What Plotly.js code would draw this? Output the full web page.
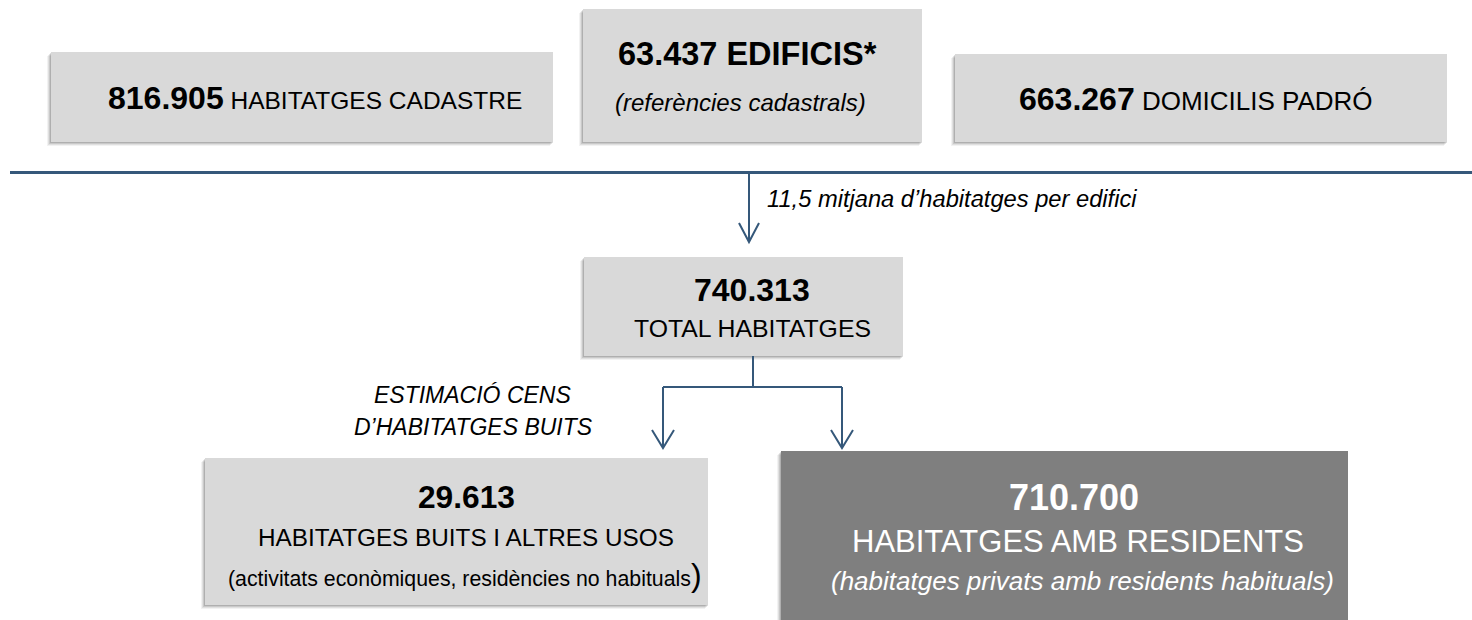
<!DOCTYPE html>
<html>
<head>
<meta charset="utf-8">
<script src="https://cdn.plot.ly/plotly-3.0.1.min.js"></script>
<style>
  html, body { margin: 0; padding: 0; background: #ffffff; }
  #chart { width: 1472px; height: 620px; }
</style>
</head>
<body>
<div id="chart"></div>
<script>
// ---- Data (text content of the diagram) ----
const topValues = ['816.905', '63.437', '663.267'];
const topLabels = ['HABITATGES CADASTRE', 'EDIFICIS*', 'DOMICILIS PADRÓ'];
const topNote = '(referències cadastrals)';
const avgLabel = '11,5 mitjana d’habitatges per edifici';
const totalValue = '740.313';
const totalLabel = 'TOTAL HABITATGES';
const estimateLabel = ['ESTIMACIÓ CENS', 'D’HABITATGES BUITS'];
const emptyValue = '29.613';
const emptyLabel = 'HABITATGES BUITS I ALTRES USOS';
const emptyNote = '(activitats econòmiques, residències no habituals';
const residentValue = '710.700';
const residentLabel = 'HABITATGES AMB RESIDENTS';
const residentNote = '(habitatges privats amb residents habituals)';

// ---- Layout geometry / styles ----
const FONT = 'Liberation Sans, Arial, Helvetica, sans-serif';
const LIGHT = '#d9d9d9';
const DARK = '#7f7f7f';
const LINE = '#35587a';

const boxes = [
  {x0: 51,  x1: 553,  y0: 52,  y1: 142, fill: LIGHT},   // cadastre
  {x0: 583, x1: 922,  y0: 9,   y1: 142, fill: LIGHT},   // edificis
  {x0: 955, x1: 1447, y0: 54,  y1: 142, fill: LIGHT},   // padró
  {x0: 584, x1: 903,  y0: 257, y1: 356, fill: LIGHT},   // total
  {x0: 205, x1: 708,  y0: 458, y1: 605, fill: LIGHT},   // buits
  {x0: 781, x1: 1348, y0: 451, y1: 640, fill: DARK}     // residents
];

const shapes = [];
boxes.forEach(b => {
  [[4, 0.05], [3, 0.07], [2, 0.10], [1, 0.13]].forEach(([o, a]) => {
    shapes.push({type: 'rect', xref: 'x', yref: 'y', x0: b.x0 - o, x1: b.x1 - o + 1, y0: b.y0 + o, y1: b.y1 + o,
      fillcolor: 'rgba(0,0,0,' + a + ')', line: {width: 0}, layer: 'above'});
  });
  shapes.push({type: 'rect', xref: 'x', yref: 'y', x0: b.x0, x1: b.x1, y0: b.y0, y1: b.y1,
    fillcolor: b.fill, line: {width: 0}, layer: 'above'});
});

function seg(x0, y0, x1, y1, w) {
  shapes.push({type: 'line', xref: 'x', yref: 'y', x0, y0, x1, y1, line: {color: LINE, width: w || 2}, layer: 'above'});
}
function arrowHead(x, tip, hw, h) {
  shapes.push({type: 'path', xref: 'x', yref: 'y',
    path: `M ${x - hw} ${tip - h} L ${x} ${tip} L ${x + hw} ${tip - h}`,
    line: {color: LINE, width: 2}, layer: 'above'});
}
// separator line
seg(10, 172.5, 1472, 172.5, 3);
// main arrow
seg(749, 172, 749, 242);
arrowHead(749, 242, 10, 19);
// connector from total
seg(753, 356, 753, 387);
seg(663, 387, 842, 387);
seg(663, 387, 663, 448);
seg(842, 387, 842, 448);
arrowHead(663, 448, 11, 18);
arrowHead(842, 448, 11, 18);

const annotations = [];
function txt(x, y, text, size, color, anchor) {
  annotations.push({xref: 'x', yref: 'y', x, y, text, showarrow: false,
    xanchor: anchor || 'center', yanchor: 'middle',
    font: {family: FONT, size, color: color || '#000000'}});
}
// top boxes
txt(315, 98, `<span style="font-size:32px"><b>${topValues[0]}</b></span> ${topLabels[0]}`, 24.5);
txt(747, 54, `<b>${topValues[1]} ${topLabels[1]}</b>`, 32.5);
txt(740, 102, `<i>${topNote}</i>`, 24);
txt(1196, 99, `<span style="font-size:32px"><b>${topValues[2]}</b></span> ${topLabels[2]}`, 26);
// average label
txt(765, 199, `<i>${avgLabel}</i>`, 23.7, '#000000', 'left');
// total
txt(752, 290, `<b>${totalValue}</b>`, 32);
txt(752, 328, totalLabel, 24.8);
// estimate label
txt(472, 395, `<i>${estimateLabel[0]}</i>`, 23);
txt(473, 427, `<i>${estimateLabel[1]}</i>`, 23);
// empty dwellings
txt(466, 497, `<b>${emptyValue}</b>`, 31.7);
txt(466, 537, emptyLabel, 24.3);
txt(465, 575, `${emptyNote}<span style="font-size:32px">)</span>`, 21.3);
// residents
txt(1074, 497, `<b>${residentValue}</b>`, 36, '#ffffff');
txt(1078, 541, residentLabel, 31, '#ffffff');
txt(1082, 581, `<i>${residentNote}</i>`, 26, '#ffffff');

const layout = {
  width: 1472, height: 620,
  margin: {l: 0, r: 0, t: 0, b: 0, pad: 0},
  paper_bgcolor: '#ffffff', plot_bgcolor: '#ffffff',
  showlegend: false,
  xaxis: {range: [0, 1472], visible: false, fixedrange: true},
  yaxis: {range: [620, 0], visible: false, fixedrange: true},
  shapes, annotations
};

Plotly.newPlot('chart', [{x: [], y: [], type: 'scatter', mode: 'markers', hoverinfo: 'skip'}], layout,
  {displayModeBar: false, staticPlot: true});
</script>
</body>
</html>
